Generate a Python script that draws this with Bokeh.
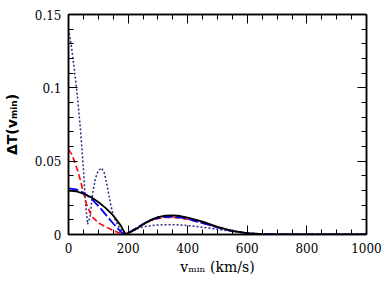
from bokeh.plotting import figure
from bokeh.models import (Range1d, LinearAxis, FixedTicker, CustomJSTickFormatter,
                          CustomLabelingPolicy)
from bokeh.embed import file_html
from bokeh.resources import INLINE

# ---- data ----
v_black = [0, 25, 50, 75, 100, 125, 150, 175, 190, 200, 225, 250, 275, 300, 325, 350, 375, 400, 450, 500, 550, 600, 650, 700, 1000]
t_black = [0.0300, 0.0295, 0.0278, 0.0255, 0.0222, 0.0180, 0.0130, 0.0062, 0.0005, 0.0008, 0.0035, 0.0068, 0.0098, 0.0119, 0.0129, 0.0131, 0.0126, 0.0115, 0.0088, 0.0052, 0.0025, 0.0010, 0.0003, 0.0, 0.0]

v_blue = [0, 25, 50, 75, 100, 125, 150, 175, 185, 200, 225, 250, 275, 300, 325, 350, 375, 400, 450, 500, 550, 600, 650, 700, 1000]
t_blue = [0.0315, 0.0308, 0.0285, 0.0248, 0.0195, 0.0135, 0.0075, 0.0020, 0.0002, 0.0010, 0.0040, 0.0072, 0.0098, 0.0114, 0.0121, 0.0121, 0.0116, 0.0106, 0.0078, 0.0048, 0.0023, 0.0008, 0.0002, 0.0, 0.0]

v_red = [0, 10, 20, 30, 40, 50, 60, 70, 80, 100, 125, 150, 175, 185, 200, 225, 250, 275, 300, 325, 350, 375, 400, 450, 500, 550, 600, 650, 700, 1000]
t_red = [0.058, 0.055, 0.050, 0.044, 0.037, 0.029, 0.021, 0.016, 0.012, 0.0080, 0.0052, 0.0028, 0.0006, 0.0001, 0.0010, 0.0038, 0.0068, 0.0093, 0.0109, 0.0116, 0.0117, 0.0113, 0.0104, 0.0078, 0.0049, 0.0024, 0.0009, 0.0002, 0.0, 0.0]

v_dot = [0, 10, 20, 30, 40, 50, 57, 64, 72, 81, 90, 100, 111, 120, 130, 140, 150, 165, 180, 192, 205, 225, 250, 275, 300, 330, 360, 400, 450, 500, 550, 600, 650, 700, 750, 1000]
t_dot = [0.140, 0.128, 0.112, 0.094, 0.072, 0.045, 0.022, 0.007, 0.012, 0.028, 0.038, 0.0435, 0.0454, 0.042, 0.033, 0.022, 0.013, 0.0065, 0.002, 0.0001, 0.0015, 0.0035, 0.0052, 0.0060, 0.0065, 0.0067, 0.0066, 0.0061, 0.0050, 0.0035, 0.0021, 0.0010, 0.0004, 0.0001, 0.0, 0.0]

x_major = [0, 200, 400, 600, 800, 1000]
x_minor = [50 * i for i in range(21)]
y_major = [0.0, 0.05, 0.1, 0.15]
y_minor = [round(0.01 * i, 4) for i in range(16)]
x_title = "v\u2098\u1d62\u2099 (km/s)"
y_title = "\u0394T(v\u2098\u1d62\u2099)"

# ---- figure ----
W, H = 382, 282
BL, BR, BT, BB = 67, 16, 14, 48
p = figure(width=W, height=H, output_backend="svg", toolbar_location=None,
           x_range=Range1d(0, 1000), y_range=Range1d(0, 0.15),
           min_border_left=BL, min_border_right=BR, min_border_top=BT, min_border_bottom=BB,
           x_axis_location=None, y_axis_location=None)
p.grid.visible = False
p.outline_line_color = "black"
p.outline_line_width = 1.5
p.background_fill_color = "white"
p.border_fill_color = "white"

fmt_y = CustomJSTickFormatter(code="return String(parseFloat(tick.toFixed(2)));")
fmt_none = CustomJSTickFormatter(code="return '';")
no_labels = CustomLabelingPolicy(code="return [];")

def make_axis(kind, show_labels):
    if kind == "x":
        tk = FixedTicker(ticks=x_major, minor_ticks=x_minor)
    else:
        tk = FixedTicker(ticks=y_major, minor_ticks=y_minor)
    if show_labels:
        ax = LinearAxis(ticker=tk, formatter=fmt_y) if kind == "y" else LinearAxis(ticker=tk)
    else:
        ax = LinearAxis(ticker=tk, formatter=fmt_none)
    ax.major_tick_in = 9
    ax.major_tick_out = 0
    ax.minor_tick_in = 5
    ax.minor_tick_out = 0
    ax.axis_line_width = 1.5
    ax.major_tick_line_width = 1
    ax.minor_tick_line_width = 1
    ax.axis_line_color = "black"
    ax.major_tick_line_color = "black"
    ax.minor_tick_line_color = "black"
    if show_labels:
        ax.major_label_text_font = "DejaVu Serif"
        ax.major_label_text_font_size = "12px"
        ax.major_label_text_color = "black"
        ax.major_label_standoff = 8 if kind == "x" else 7
        ax.axis_label_text_color = "black"
        ax.axis_label_text_font_style = "normal"
        if kind == "x":
            ax.axis_label = x_title
            ax.axis_label_text_font = "DejaVu Serif"
            ax.axis_label_text_font_size = "14px"
            ax.axis_label_standoff = 3
        else:
            ax.axis_label = y_title
            ax.axis_label_text_font = "DejaVu Sans"
            ax.axis_label_text_font_style = "bold"
            ax.axis_label_text_font_size = "14px"
            ax.axis_label_standoff = 12
    else:
        ax.major_label_policy = no_labels
        ax.major_label_standoff = 0
    return ax

p.add_layout(make_axis("x", True), "below")
p.add_layout(make_axis("y", True), "left")
p.add_layout(make_axis("x", False), "above")
p.add_layout(make_axis("y", False), "right")

p.line(v_dot, t_dot, line_color="#2c2c8c", line_width=1.5, line_dash="2 2")
p.line(v_red, t_red, line_color="#ff0000", line_width=1.6, line_dash="6 3")
p.line(v_blue, t_blue, line_color="#0000ff", line_width=1.8, line_dash="10 3")
p.line(v_black, t_black, line_color="black", line_width=1.8)

open("out.html", "w").write(file_html(p, INLINE))
